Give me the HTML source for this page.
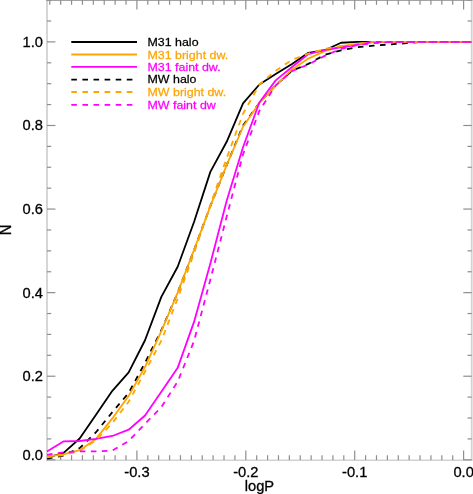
<!DOCTYPE html>
<html><head><meta charset="utf-8"><style>
html,body{margin:0;padding:0;background:#fff;}
body{width:473px;height:494px;overflow:hidden;}
svg{display:block;font-family:"Liberation Sans",sans-serif;will-change:transform;}
text.t{stroke:#000;stroke-width:0.3px;}
</style></head><body>
<svg width="473" height="494" viewBox="0 0 473 494">
<line x1="47" y1="0" x2="47" y2="460.5" stroke="#d2d2d2" stroke-width="1.8"/>
<line x1="471.7" y1="0" x2="471.7" y2="460.5" stroke="#d2d2d2" stroke-width="1.8"/>
<line x1="46" y1="460.2" x2="472.5" y2="460.2" stroke="#d2d2d2" stroke-width="1.4"/>
<line x1="46" y1="0.5" x2="472.5" y2="0.5" stroke="#a4a4a4" stroke-width="1.2"/>
<line x1="49.78" y1="460" x2="49.78" y2="455.2" stroke="#8e8e8e" stroke-width="1.2"/>
<line x1="49.78" y1="0" x2="49.78" y2="4.8" stroke="#8e8e8e" stroke-width="1.2"/>
<line x1="60.67" y1="460" x2="60.67" y2="455.2" stroke="#8e8e8e" stroke-width="1.2"/>
<line x1="60.67" y1="0" x2="60.67" y2="4.8" stroke="#8e8e8e" stroke-width="1.2"/>
<line x1="71.56" y1="460" x2="71.56" y2="455.2" stroke="#8e8e8e" stroke-width="1.2"/>
<line x1="71.56" y1="0" x2="71.56" y2="4.8" stroke="#8e8e8e" stroke-width="1.2"/>
<line x1="82.45" y1="460" x2="82.45" y2="455.2" stroke="#8e8e8e" stroke-width="1.2"/>
<line x1="82.45" y1="0" x2="82.45" y2="4.8" stroke="#8e8e8e" stroke-width="1.2"/>
<line x1="93.34" y1="460" x2="93.34" y2="455.2" stroke="#8e8e8e" stroke-width="1.2"/>
<line x1="93.34" y1="0" x2="93.34" y2="4.8" stroke="#8e8e8e" stroke-width="1.2"/>
<line x1="104.23" y1="460" x2="104.23" y2="455.2" stroke="#8e8e8e" stroke-width="1.2"/>
<line x1="104.23" y1="0" x2="104.23" y2="4.8" stroke="#8e8e8e" stroke-width="1.2"/>
<line x1="115.12" y1="460" x2="115.12" y2="455.2" stroke="#8e8e8e" stroke-width="1.2"/>
<line x1="115.12" y1="0" x2="115.12" y2="4.8" stroke="#8e8e8e" stroke-width="1.2"/>
<line x1="126.01" y1="460" x2="126.01" y2="455.2" stroke="#8e8e8e" stroke-width="1.2"/>
<line x1="126.01" y1="0" x2="126.01" y2="4.8" stroke="#8e8e8e" stroke-width="1.2"/>
<line x1="136.90" y1="460" x2="136.90" y2="450.5" stroke="#8e8e8e" stroke-width="1.2"/>
<line x1="136.90" y1="0" x2="136.90" y2="9.5" stroke="#8e8e8e" stroke-width="1.2"/>
<line x1="147.79" y1="460" x2="147.79" y2="455.2" stroke="#8e8e8e" stroke-width="1.2"/>
<line x1="147.79" y1="0" x2="147.79" y2="4.8" stroke="#8e8e8e" stroke-width="1.2"/>
<line x1="158.68" y1="460" x2="158.68" y2="455.2" stroke="#8e8e8e" stroke-width="1.2"/>
<line x1="158.68" y1="0" x2="158.68" y2="4.8" stroke="#8e8e8e" stroke-width="1.2"/>
<line x1="169.57" y1="460" x2="169.57" y2="455.2" stroke="#8e8e8e" stroke-width="1.2"/>
<line x1="169.57" y1="0" x2="169.57" y2="4.8" stroke="#8e8e8e" stroke-width="1.2"/>
<line x1="180.46" y1="460" x2="180.46" y2="455.2" stroke="#8e8e8e" stroke-width="1.2"/>
<line x1="180.46" y1="0" x2="180.46" y2="4.8" stroke="#8e8e8e" stroke-width="1.2"/>
<line x1="191.35" y1="460" x2="191.35" y2="455.2" stroke="#8e8e8e" stroke-width="1.2"/>
<line x1="191.35" y1="0" x2="191.35" y2="4.8" stroke="#8e8e8e" stroke-width="1.2"/>
<line x1="202.24" y1="460" x2="202.24" y2="455.2" stroke="#8e8e8e" stroke-width="1.2"/>
<line x1="202.24" y1="0" x2="202.24" y2="4.8" stroke="#8e8e8e" stroke-width="1.2"/>
<line x1="213.13" y1="460" x2="213.13" y2="455.2" stroke="#8e8e8e" stroke-width="1.2"/>
<line x1="213.13" y1="0" x2="213.13" y2="4.8" stroke="#8e8e8e" stroke-width="1.2"/>
<line x1="224.02" y1="460" x2="224.02" y2="455.2" stroke="#8e8e8e" stroke-width="1.2"/>
<line x1="224.02" y1="0" x2="224.02" y2="4.8" stroke="#8e8e8e" stroke-width="1.2"/>
<line x1="234.91" y1="460" x2="234.91" y2="455.2" stroke="#8e8e8e" stroke-width="1.2"/>
<line x1="234.91" y1="0" x2="234.91" y2="4.8" stroke="#8e8e8e" stroke-width="1.2"/>
<line x1="245.80" y1="460" x2="245.80" y2="450.5" stroke="#8e8e8e" stroke-width="1.2"/>
<line x1="245.80" y1="0" x2="245.80" y2="9.5" stroke="#8e8e8e" stroke-width="1.2"/>
<line x1="256.69" y1="460" x2="256.69" y2="455.2" stroke="#8e8e8e" stroke-width="1.2"/>
<line x1="256.69" y1="0" x2="256.69" y2="4.8" stroke="#8e8e8e" stroke-width="1.2"/>
<line x1="267.58" y1="460" x2="267.58" y2="455.2" stroke="#8e8e8e" stroke-width="1.2"/>
<line x1="267.58" y1="0" x2="267.58" y2="4.8" stroke="#8e8e8e" stroke-width="1.2"/>
<line x1="278.47" y1="460" x2="278.47" y2="455.2" stroke="#8e8e8e" stroke-width="1.2"/>
<line x1="278.47" y1="0" x2="278.47" y2="4.8" stroke="#8e8e8e" stroke-width="1.2"/>
<line x1="289.36" y1="460" x2="289.36" y2="455.2" stroke="#8e8e8e" stroke-width="1.2"/>
<line x1="289.36" y1="0" x2="289.36" y2="4.8" stroke="#8e8e8e" stroke-width="1.2"/>
<line x1="300.25" y1="460" x2="300.25" y2="455.2" stroke="#8e8e8e" stroke-width="1.2"/>
<line x1="300.25" y1="0" x2="300.25" y2="4.8" stroke="#8e8e8e" stroke-width="1.2"/>
<line x1="311.14" y1="460" x2="311.14" y2="455.2" stroke="#8e8e8e" stroke-width="1.2"/>
<line x1="311.14" y1="0" x2="311.14" y2="4.8" stroke="#8e8e8e" stroke-width="1.2"/>
<line x1="322.03" y1="460" x2="322.03" y2="455.2" stroke="#8e8e8e" stroke-width="1.2"/>
<line x1="322.03" y1="0" x2="322.03" y2="4.8" stroke="#8e8e8e" stroke-width="1.2"/>
<line x1="332.92" y1="460" x2="332.92" y2="455.2" stroke="#8e8e8e" stroke-width="1.2"/>
<line x1="332.92" y1="0" x2="332.92" y2="4.8" stroke="#8e8e8e" stroke-width="1.2"/>
<line x1="343.81" y1="460" x2="343.81" y2="455.2" stroke="#8e8e8e" stroke-width="1.2"/>
<line x1="343.81" y1="0" x2="343.81" y2="4.8" stroke="#8e8e8e" stroke-width="1.2"/>
<line x1="354.70" y1="460" x2="354.70" y2="450.5" stroke="#8e8e8e" stroke-width="1.2"/>
<line x1="354.70" y1="0" x2="354.70" y2="9.5" stroke="#8e8e8e" stroke-width="1.2"/>
<line x1="365.59" y1="460" x2="365.59" y2="455.2" stroke="#8e8e8e" stroke-width="1.2"/>
<line x1="365.59" y1="0" x2="365.59" y2="4.8" stroke="#8e8e8e" stroke-width="1.2"/>
<line x1="376.48" y1="460" x2="376.48" y2="455.2" stroke="#8e8e8e" stroke-width="1.2"/>
<line x1="376.48" y1="0" x2="376.48" y2="4.8" stroke="#8e8e8e" stroke-width="1.2"/>
<line x1="387.37" y1="460" x2="387.37" y2="455.2" stroke="#8e8e8e" stroke-width="1.2"/>
<line x1="387.37" y1="0" x2="387.37" y2="4.8" stroke="#8e8e8e" stroke-width="1.2"/>
<line x1="398.26" y1="460" x2="398.26" y2="455.2" stroke="#8e8e8e" stroke-width="1.2"/>
<line x1="398.26" y1="0" x2="398.26" y2="4.8" stroke="#8e8e8e" stroke-width="1.2"/>
<line x1="409.15" y1="460" x2="409.15" y2="455.2" stroke="#8e8e8e" stroke-width="1.2"/>
<line x1="409.15" y1="0" x2="409.15" y2="4.8" stroke="#8e8e8e" stroke-width="1.2"/>
<line x1="420.04" y1="460" x2="420.04" y2="455.2" stroke="#8e8e8e" stroke-width="1.2"/>
<line x1="420.04" y1="0" x2="420.04" y2="4.8" stroke="#8e8e8e" stroke-width="1.2"/>
<line x1="430.93" y1="460" x2="430.93" y2="455.2" stroke="#8e8e8e" stroke-width="1.2"/>
<line x1="430.93" y1="0" x2="430.93" y2="4.8" stroke="#8e8e8e" stroke-width="1.2"/>
<line x1="441.82" y1="460" x2="441.82" y2="455.2" stroke="#8e8e8e" stroke-width="1.2"/>
<line x1="441.82" y1="0" x2="441.82" y2="4.8" stroke="#8e8e8e" stroke-width="1.2"/>
<line x1="452.71" y1="460" x2="452.71" y2="455.2" stroke="#8e8e8e" stroke-width="1.2"/>
<line x1="452.71" y1="0" x2="452.71" y2="4.8" stroke="#8e8e8e" stroke-width="1.2"/>
<line x1="463.60" y1="460" x2="463.60" y2="450.5" stroke="#8e8e8e" stroke-width="1.2"/>
<line x1="463.60" y1="0" x2="463.60" y2="9.5" stroke="#8e8e8e" stroke-width="1.2"/>
<line x1="47" y1="459.80" x2="55.4" y2="459.80" stroke="#8e8e8e" stroke-width="1.2"/>
<line x1="471.7" y1="459.80" x2="463.3" y2="459.80" stroke="#8e8e8e" stroke-width="1.2"/>
<line x1="47" y1="438.91" x2="51.2" y2="438.91" stroke="#8e8e8e" stroke-width="1.2"/>
<line x1="471.7" y1="438.91" x2="467.5" y2="438.91" stroke="#8e8e8e" stroke-width="1.2"/>
<line x1="47" y1="418.01" x2="51.2" y2="418.01" stroke="#8e8e8e" stroke-width="1.2"/>
<line x1="471.7" y1="418.01" x2="467.5" y2="418.01" stroke="#8e8e8e" stroke-width="1.2"/>
<line x1="47" y1="397.12" x2="51.2" y2="397.12" stroke="#8e8e8e" stroke-width="1.2"/>
<line x1="471.7" y1="397.12" x2="467.5" y2="397.12" stroke="#8e8e8e" stroke-width="1.2"/>
<line x1="47" y1="376.22" x2="55.4" y2="376.22" stroke="#8e8e8e" stroke-width="1.2"/>
<line x1="471.7" y1="376.22" x2="463.3" y2="376.22" stroke="#8e8e8e" stroke-width="1.2"/>
<line x1="47" y1="355.33" x2="51.2" y2="355.33" stroke="#8e8e8e" stroke-width="1.2"/>
<line x1="471.7" y1="355.33" x2="467.5" y2="355.33" stroke="#8e8e8e" stroke-width="1.2"/>
<line x1="47" y1="334.43" x2="51.2" y2="334.43" stroke="#8e8e8e" stroke-width="1.2"/>
<line x1="471.7" y1="334.43" x2="467.5" y2="334.43" stroke="#8e8e8e" stroke-width="1.2"/>
<line x1="47" y1="313.53" x2="51.2" y2="313.53" stroke="#8e8e8e" stroke-width="1.2"/>
<line x1="471.7" y1="313.53" x2="467.5" y2="313.53" stroke="#8e8e8e" stroke-width="1.2"/>
<line x1="47" y1="292.64" x2="55.4" y2="292.64" stroke="#8e8e8e" stroke-width="1.2"/>
<line x1="471.7" y1="292.64" x2="463.3" y2="292.64" stroke="#8e8e8e" stroke-width="1.2"/>
<line x1="47" y1="271.75" x2="51.2" y2="271.75" stroke="#8e8e8e" stroke-width="1.2"/>
<line x1="471.7" y1="271.75" x2="467.5" y2="271.75" stroke="#8e8e8e" stroke-width="1.2"/>
<line x1="47" y1="250.85" x2="51.2" y2="250.85" stroke="#8e8e8e" stroke-width="1.2"/>
<line x1="471.7" y1="250.85" x2="467.5" y2="250.85" stroke="#8e8e8e" stroke-width="1.2"/>
<line x1="47" y1="229.96" x2="51.2" y2="229.96" stroke="#8e8e8e" stroke-width="1.2"/>
<line x1="471.7" y1="229.96" x2="467.5" y2="229.96" stroke="#8e8e8e" stroke-width="1.2"/>
<line x1="47" y1="209.06" x2="55.4" y2="209.06" stroke="#8e8e8e" stroke-width="1.2"/>
<line x1="471.7" y1="209.06" x2="463.3" y2="209.06" stroke="#8e8e8e" stroke-width="1.2"/>
<line x1="47" y1="188.17" x2="51.2" y2="188.17" stroke="#8e8e8e" stroke-width="1.2"/>
<line x1="471.7" y1="188.17" x2="467.5" y2="188.17" stroke="#8e8e8e" stroke-width="1.2"/>
<line x1="47" y1="167.27" x2="51.2" y2="167.27" stroke="#8e8e8e" stroke-width="1.2"/>
<line x1="471.7" y1="167.27" x2="467.5" y2="167.27" stroke="#8e8e8e" stroke-width="1.2"/>
<line x1="47" y1="146.38" x2="51.2" y2="146.38" stroke="#8e8e8e" stroke-width="1.2"/>
<line x1="471.7" y1="146.38" x2="467.5" y2="146.38" stroke="#8e8e8e" stroke-width="1.2"/>
<line x1="47" y1="125.48" x2="55.4" y2="125.48" stroke="#8e8e8e" stroke-width="1.2"/>
<line x1="471.7" y1="125.48" x2="463.3" y2="125.48" stroke="#8e8e8e" stroke-width="1.2"/>
<line x1="47" y1="104.58" x2="51.2" y2="104.58" stroke="#8e8e8e" stroke-width="1.2"/>
<line x1="471.7" y1="104.58" x2="467.5" y2="104.58" stroke="#8e8e8e" stroke-width="1.2"/>
<line x1="47" y1="83.69" x2="51.2" y2="83.69" stroke="#8e8e8e" stroke-width="1.2"/>
<line x1="471.7" y1="83.69" x2="467.5" y2="83.69" stroke="#8e8e8e" stroke-width="1.2"/>
<line x1="47" y1="62.80" x2="51.2" y2="62.80" stroke="#8e8e8e" stroke-width="1.2"/>
<line x1="471.7" y1="62.80" x2="467.5" y2="62.80" stroke="#8e8e8e" stroke-width="1.2"/>
<line x1="47" y1="41.90" x2="55.4" y2="41.90" stroke="#8e8e8e" stroke-width="1.2"/>
<line x1="471.7" y1="41.90" x2="463.3" y2="41.90" stroke="#8e8e8e" stroke-width="1.2"/>
<line x1="47" y1="21.00" x2="51.2" y2="21.00" stroke="#8e8e8e" stroke-width="1.2"/>
<line x1="471.7" y1="21.00" x2="467.5" y2="21.00" stroke="#8e8e8e" stroke-width="1.2"/>
<line x1="47" y1="0.11" x2="51.2" y2="0.11" stroke="#8e8e8e" stroke-width="1.2"/>
<line x1="471.7" y1="0.11" x2="467.5" y2="0.11" stroke="#8e8e8e" stroke-width="1.2"/>
<polyline points="47.00,457.50 63.34,453.11 79.67,438.49 96.00,414.67 112.34,390.85 128.68,372.46 145.01,340.28 161.34,296.82 177.68,266.73 194.02,222.01 210.35,171.87 226.69,141.78 243.02,103.33 259.36,84.53 275.69,74.08 292.02,64.05 308.36,52.77 324.69,50.26 341.03,42.74 357.37,41.90 373.70,41.90 390.04,41.90 406.37,41.90 422.71,41.90 439.04,41.90 455.38,41.90 471.71,41.90" fill="none" stroke="#000000" stroke-width="1.8" stroke-linejoin="round"/>
<polyline points="47.00,458.55 63.34,455.62 79.67,448.10 96.00,432.22 112.34,412.16 128.68,392.94 145.01,362.85 161.34,330.25 177.68,292.64 194.02,250.01 210.35,206.13 226.69,165.18 243.02,125.48 259.36,102.91 275.69,85.36 292.02,70.74 308.36,63.84 324.69,54.85 341.03,50.26 357.37,47.08 373.70,45.66 390.04,44.41 406.37,43.15 422.71,41.90 439.04,41.90 455.38,41.90 471.71,41.90" fill="none" stroke="#000000" stroke-width="1.8" stroke-linejoin="round" stroke-dasharray="5.6 5.5"/>
<polyline points="47.00,456.46 63.34,454.37 79.67,450.19 96.00,438.91 112.34,418.43 128.68,395.86 145.01,367.03 161.34,331.09 177.68,292.64 194.02,250.01 210.35,206.13 226.69,165.18 243.02,126.73 259.36,102.91 275.69,85.78 292.02,69.48 308.36,58.62 324.69,51.09 341.03,46.08 357.37,43.99 373.70,41.90 390.04,41.90 406.37,41.90 422.71,41.90 439.04,41.90 455.38,41.90 471.71,41.90" fill="none" stroke="#ffa500" stroke-width="1.8" stroke-linejoin="round"/>
<polyline points="47.00,451.44 63.34,441.41 79.67,440.99 96.00,438.91 112.34,435.98 128.68,429.71 145.01,415.50 161.34,391.68 177.68,367.86 194.02,321.89 210.35,263.39 226.69,200.70 243.02,147.21 259.36,102.50 275.69,80.35 292.02,66.97 308.36,54.02 324.69,49.84 341.03,47.33 357.37,44.83 373.70,41.90 390.04,41.90 406.37,41.90 422.71,41.90 439.04,41.90 455.38,41.90 471.71,41.90" fill="none" stroke="#ff00ff" stroke-width="1.8" stroke-linejoin="round"/>
<polyline points="47.00,457.29 63.34,455.20 79.67,451.02 96.00,440.16 112.34,423.02 128.68,401.71 145.01,371.62 161.34,340.70 177.68,298.49 194.02,253.36 210.35,204.88 226.69,158.08 243.02,113.78 259.36,84.53 275.69,70.74 292.02,59.87 308.36,53.60 324.69,49.00 341.03,46.08 357.37,43.99 373.70,41.90 390.04,41.90 406.37,41.90 422.71,41.90 439.04,41.90 455.38,41.90 471.71,41.90" fill="none" stroke="#ffa500" stroke-width="1.8" stroke-linejoin="round" stroke-dasharray="5.629 5.529"/>
<polyline points="47.00,454.79 63.34,452.28 79.67,451.44 96.00,451.44 112.34,450.61 128.68,440.99 145.01,423.86 161.34,407.14 177.68,381.65 194.02,341.12 210.35,279.69 226.69,216.58 243.02,154.32 259.36,110.85 275.69,85.36 292.02,71.15 308.36,64.47 324.69,55.90 341.03,48.80 357.37,45.03 373.70,43.15 390.04,41.90 406.37,41.90 422.71,41.90 439.04,41.90 455.38,41.90 471.71,41.90" fill="none" stroke="#ff00ff" stroke-width="1.8" stroke-linejoin="round" stroke-dasharray="5.559 5.460"/>
<line x1="71.3" y1="42.0" x2="137" y2="42.0" stroke="#000000" stroke-width="1.8"/>
<line x1="71.3" y1="54.5" x2="137" y2="54.5" stroke="#ffa500" stroke-width="1.8"/>
<line x1="71.3" y1="66.9" x2="137" y2="66.9" stroke="#ff00ff" stroke-width="1.8"/>
<line x1="71.3" y1="79.6" x2="137" y2="79.6" stroke="#000000" stroke-width="1.8" stroke-dasharray="5.6 5.5"/>
<line x1="71.3" y1="92.0" x2="137" y2="92.0" stroke="#ffa500" stroke-width="1.8" stroke-dasharray="5.6 5.5"/>
<line x1="71.3" y1="104.8" x2="137" y2="104.8" stroke="#ff00ff" stroke-width="1.8" stroke-dasharray="5.6 5.5"/>
<text transform="translate(147.5,46.2) scale(1.08,1)" fill="#000000" stroke="#000000" stroke-width="0.25" font-size="11.5">M31 halo</text>
<text transform="translate(147.5,58.6) scale(1.08,1)" fill="#ffa500" stroke="#ffa500" stroke-width="0.25" font-size="11.5">M31 bright dw.</text>
<text transform="translate(147.5,70.9) scale(1.08,1)" fill="#ff00ff" stroke="#ff00ff" stroke-width="0.25" font-size="11.5">M31 faint dw.</text>
<text transform="translate(147.5,83.2) scale(1.08,1)" fill="#000000" stroke="#000000" stroke-width="0.25" font-size="11.5">MW halo</text>
<text transform="translate(147.5,96.4) scale(1.08,1)" fill="#ffa500" stroke="#ffa500" stroke-width="0.25" font-size="11.5">MW bright dw.</text>
<text transform="translate(147.5,108.7) scale(1.08,1)" fill="#ff00ff" stroke="#ff00ff" stroke-width="0.25" font-size="11.5">MW faint dw</text>
<text transform="translate(42.9,460.3) scale(1.0,1)" class="t" text-anchor="end" font-size="14.7">0.0</text>
<text transform="translate(42.9,381.1) scale(1.0,1)" class="t" text-anchor="end" font-size="14.7">0.2</text>
<text transform="translate(42.9,297.5) scale(1.0,1)" class="t" text-anchor="end" font-size="14.7">0.4</text>
<text transform="translate(42.9,214.0) scale(1.0,1)" class="t" text-anchor="end" font-size="14.7">0.6</text>
<text transform="translate(42.9,130.4) scale(1.0,1)" class="t" text-anchor="end" font-size="14.7">0.8</text>
<text transform="translate(42.9,46.8) scale(1.0,1)" class="t" text-anchor="end" font-size="14.7">1.0</text>
<text transform="translate(136.90,476.9) scale(1.0,1)" class="t" text-anchor="middle" font-size="14.7">-0.3</text>
<text transform="translate(245.80,476.9) scale(1.0,1)" class="t" text-anchor="middle" font-size="14.7">-0.2</text>
<text transform="translate(354.70,476.9) scale(1.0,1)" class="t" text-anchor="middle" font-size="14.7">-0.1</text>
<text transform="translate(463.60,476.9) scale(1.0,1)" class="t" text-anchor="middle" font-size="14.7">0.0</text>
<text transform="translate(259.4,491.1) scale(1.0,1)" class="t" text-anchor="middle" font-size="14.7">logP</text>
<text transform="translate(10.75,230) scale(1.12,1) rotate(-90)" x="0" y="0" class="t" text-anchor="middle" font-size="14.7">N</text>
</svg>
</body></html>
